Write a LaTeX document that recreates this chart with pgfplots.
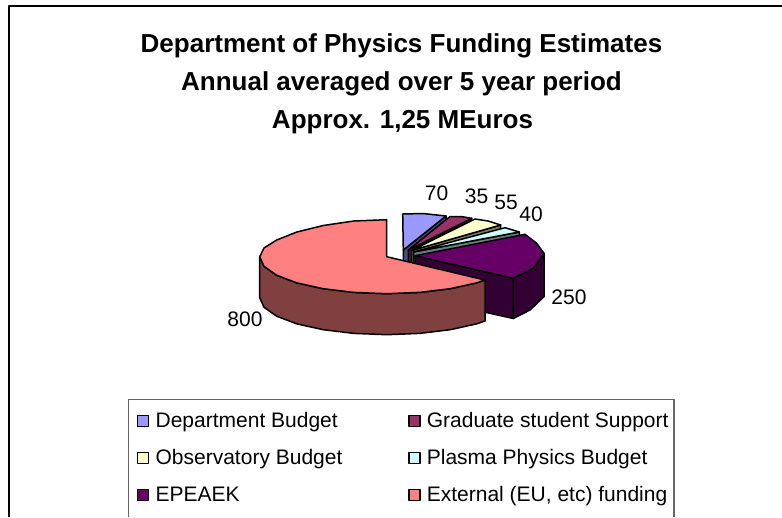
\documentclass[border=0pt]{standalone}
\usepackage{fontspec}
\setmainfont{Liberation Sans}
\usepackage{pgfplots}
\pgfplotsset{compat=1.18}
\definecolor{dept}{HTML}{9999FF}\definecolor{deptd}{HTML}{4C4C80}
\definecolor{grad}{HTML}{993366}\definecolor{gradd}{HTML}{4D1A33}
\definecolor{obs}{HTML}{FFFFCC}\definecolor{obsd}{HTML}{808066}
\definecolor{plas}{HTML}{CCFFFF}\definecolor{plasd}{HTML}{668080}
\definecolor{epe}{HTML}{660066}\definecolor{eped}{HTML}{330033}
\definecolor{ext}{HTML}{FF8080}\definecolor{extd}{HTML}{804040}
\begin{document}
\begin{tikzpicture}
\useasboundingbox (0,0) rectangle (782pt,517pt);
\clip (0,0) rectangle (782pt,517pt);
\begin{axis}[
  width=782pt,height=517pt,scale only axis,
  xmin=0,xmax=782,ymin=0,ymax=517,y dir=reverse,
  hide axis,clip=false,
  every axis plot/.append style={draw=black,line width=1.5pt,line join=round},
  legend columns=2,
  legend cell align=left,
  legend image code/.code={\path (-4pt,0pt); \draw[#1,draw=black,line width=1.4pt] (0pt,-5.5pt) rectangle (11pt,5.5pt);},
  legend style={at={(0.1643,0.2282)},anchor=north west,draw=none,fill=none,
    font=\fontsize{21}{23}\selectfont,row sep=16.3pt,inner xsep=4pt,inner ysep=11.5pt,
    /tikz/column 1/.style={column sep=4.5pt},
    /tikz/column 3/.style={column sep=4pt},
    /tikz/column 2/.style={column sep=60pt}},
]
% cut faces and tops, back to front
\addplot[fill=deptd,forget plot] coordinates {(403.3,250)(446,216)(446,257)(403.3,291)} --cycle;
\addplot[fill=dept] coordinates {(402.7,214)(423,213.5)(446,216)(403.3,250)} --cycle;
\addlegendentry{Department Budget}
\addplot[fill=gradd,forget plot] coordinates {(408.3,250)(471.7,218.3)(471.7,259.3)(408.3,291)} --cycle;
\addplot[fill=grad] coordinates {(450,216.5)(461,216.5)(471.7,218.3)(408.3,250)} --cycle;
\addlegendentry{Graduate student Support}
\addplot[fill=obsd,forget plot] coordinates {(411.5,250.5)(500.7,225)(500.7,266)(411.5,291.5)} --cycle;
\addplot[fill=obs] coordinates {(475,219)(488,221)(500.7,225)(411.5,250.5)} --cycle;
\addlegendentry{Observatory Budget}
\addplot[fill=plasd,forget plot] coordinates {(413.5,252)(519.3,232)(519.3,273)(413.5,293)} --cycle;
\addplot[fill=plas] coordinates {(505,227.7)(519.3,232)(413.5,252)} --cycle;
\addlegendentry{Plasma Physics Budget}
\addplot[fill=eped,forget plot] coordinates {(415,255.7)(513.3,278.3)(513.3,318.5)(415,296.7)} --cycle;
\addplot[fill=eped,forget plot] coordinates {(513.3,278.3)(533.3,268.3)(544,253.3)(544,296.7)(530,310)(513.3,318.5)} --cycle;
\addplot[fill=epe] coordinates {(415,255.7)(525,234.3)(536.7,243.3)(544,253.3)(533.3,268.3)(513.3,278.3)} --cycle;
\addlegendentry{EPEAEK}
\addplot[fill=extd,forget plot] coordinates {(259.7,256.7)(264,266.3)(276.7,275.2)(296.9,282.9)(323.2,288.7)(353.8,292.4)(386.7,293.7)(419.6,292.4)(450.2,288.7)(476.5,282.9)(485,280)(485,321)(476.5,323.9)(450.2,329.7)(419.6,333.4)(386.7,334.7)(353.8,333.4)(323.2,329.7)(296.9,323.9)(276.7,316.2)(264,307.3)(259.7,297.7)} --cycle;
\addplot[fill=ext] coordinates {(386.7,256.7)(386.7,219.7)(353.8,221)(323.2,225.5)(296.9,232)(276.7,240)(264,248)(259.7,256.7)(264,266.3)(276.7,275.2)(296.9,282.9)(323.2,288.7)(353.8,292.4)(386.7,293.7)(419.6,292.4)(450.2,288.7)(476.5,282.9)(485,280)} --cycle;
\addlegendentry{External (EU, etc) funding}
% chart frame and legend box
\addplot[forget plot,line width=2pt,sharp plot] coordinates {(9,517)(9,5.5)(782,5.5)};
\addplot[forget plot,draw=black!60,line width=1.2pt,sharp plot] coordinates {(128.6,517)(128.6,399.3)(674,399.3)(674,517)};
% title
\node[anchor=base,font=\fontsize{26}{26}\selectfont\bfseries] at (axis cs:401.5,52.3) {Department of Physics Funding Estimates};
\node[anchor=base,font=\fontsize{26}{26}\selectfont\bfseries] at (axis cs:401.5,90.5) {Annual averaged over 5 year period};
\node[anchor=base,font=\fontsize{26}{26}\selectfont\bfseries] at (axis cs:402.5,128) {Approx. 1,25 MEuros};
% data labels
\node[anchor=base,font=\fontsize{21}{21}\selectfont] at (axis cs:436.5,200) {70};
\node[anchor=base,font=\fontsize{21}{21}\selectfont] at (axis cs:476.5,203.3) {35};
\node[anchor=base,font=\fontsize{21}{21}\selectfont] at (axis cs:506,209.3) {55};
\node[anchor=base,font=\fontsize{21}{21}\selectfont] at (axis cs:531,221) {40};
\node[anchor=base,font=\fontsize{21}{21}\selectfont] at (axis cs:569,304.3) {250};
\node[anchor=base,font=\fontsize{21}{21}\selectfont] at (axis cs:245,326.7) {800};
\end{axis}
\end{tikzpicture}
\end{document}
